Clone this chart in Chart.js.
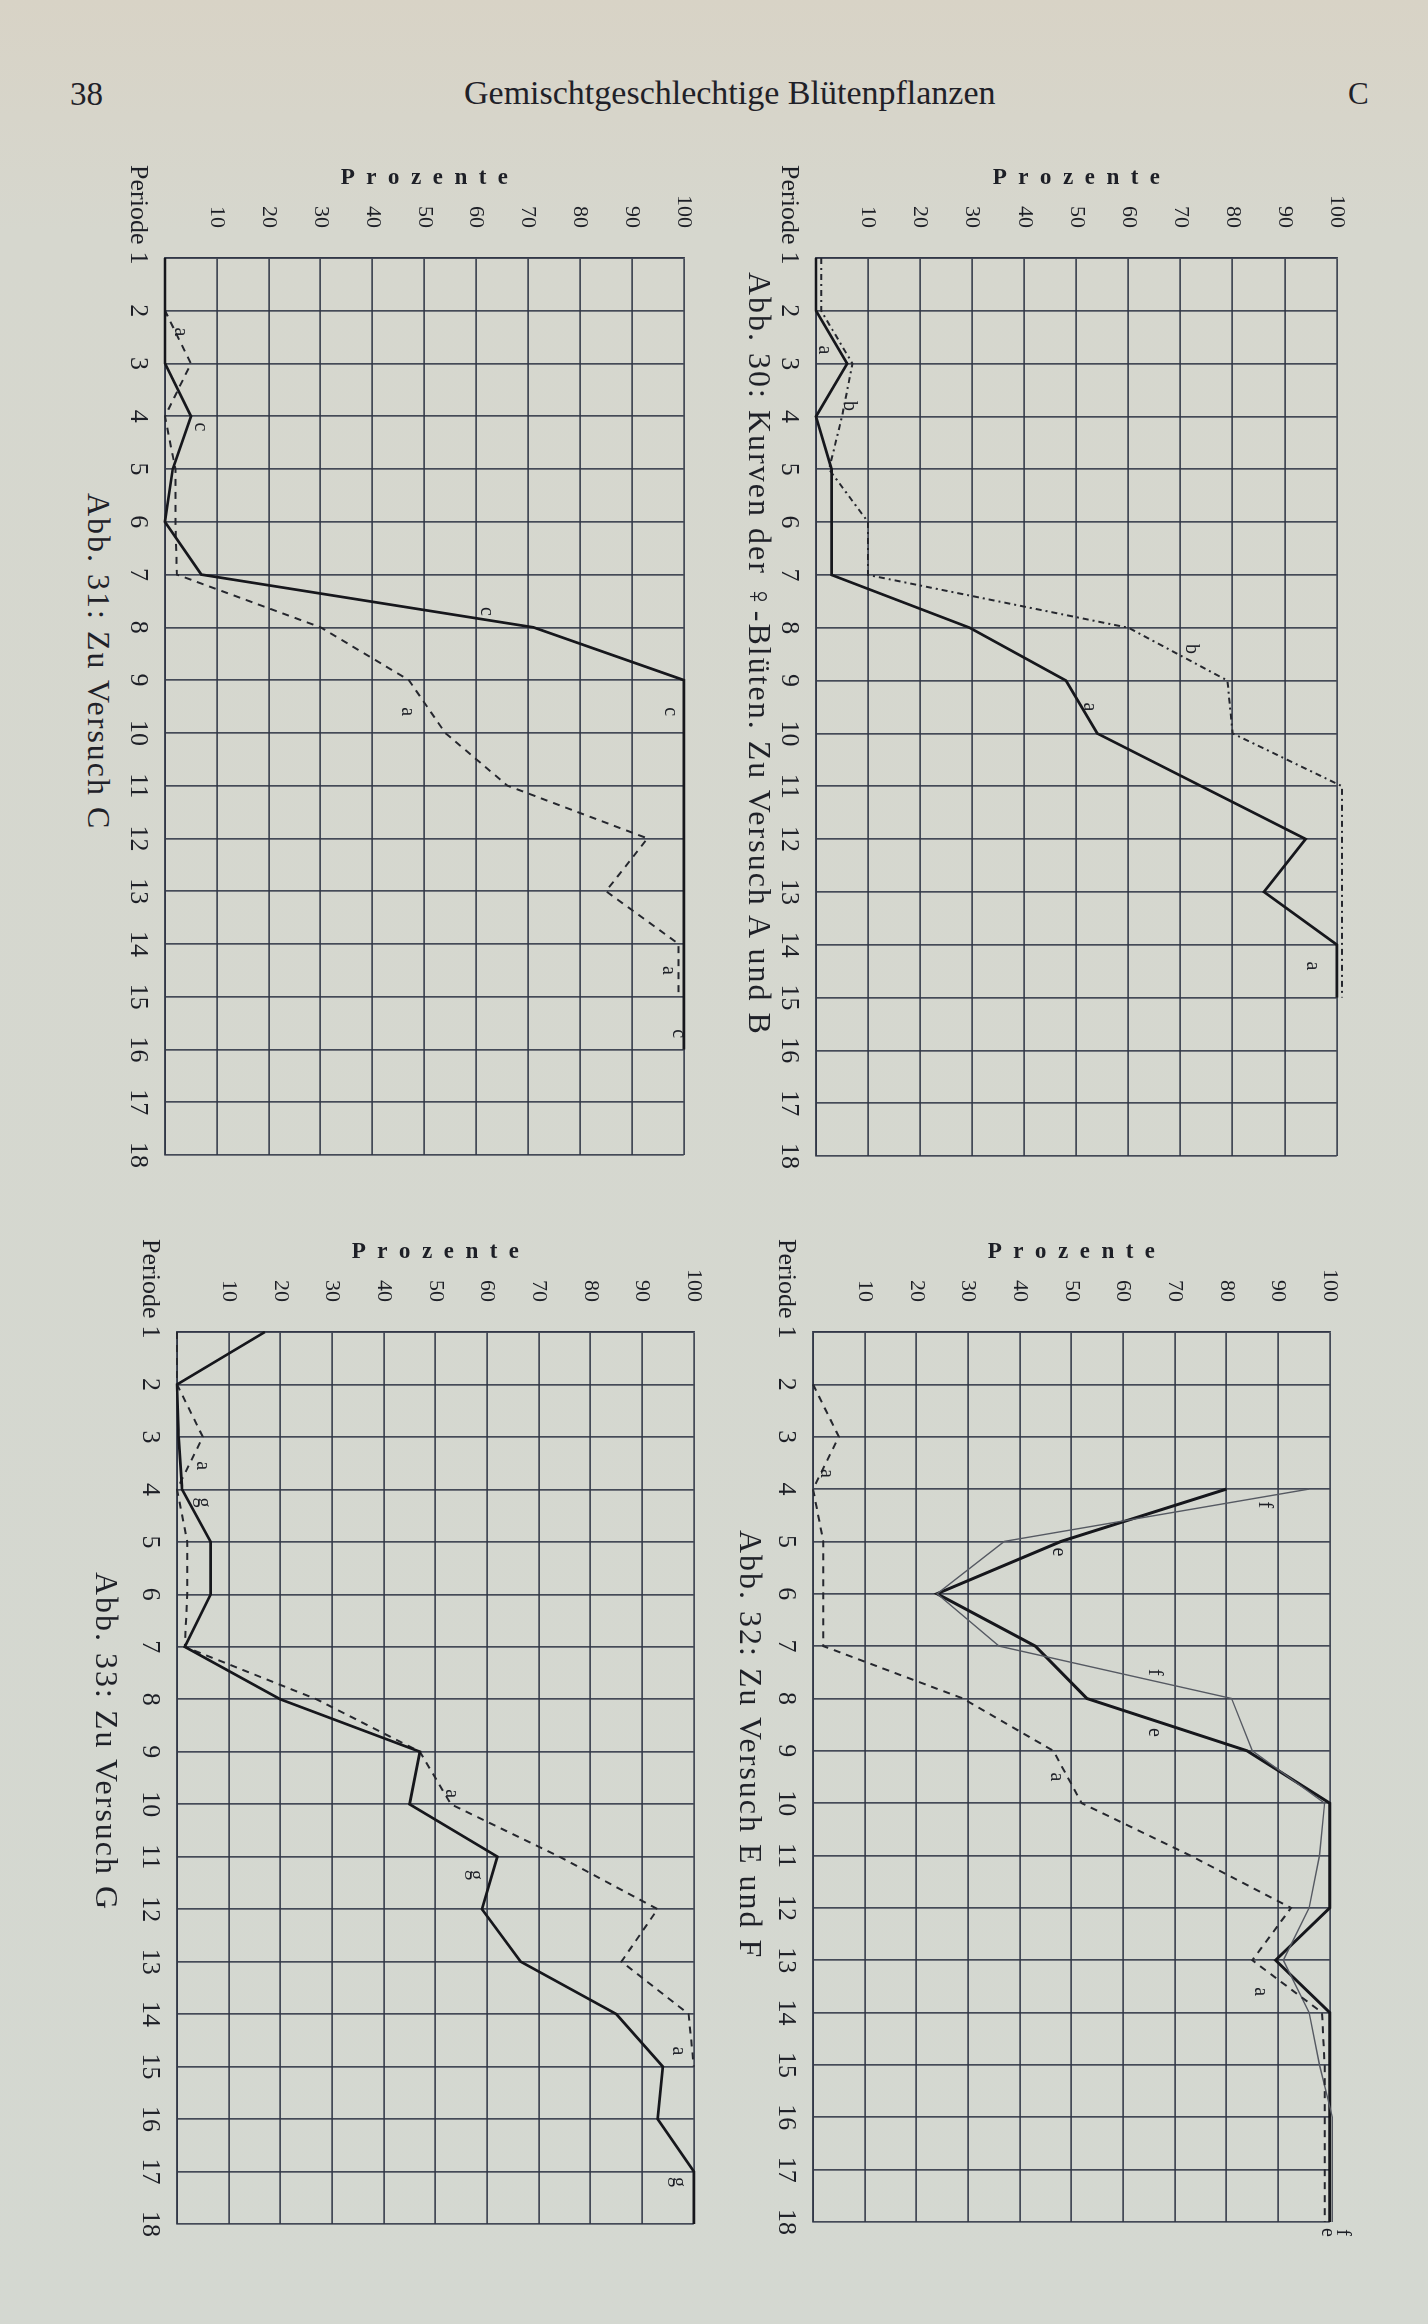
<!DOCTYPE html>
<html>
<head>
<meta charset="utf-8">
<script src="https://cdn.jsdelivr.net/npm/chart.js@4.4.1/dist/chart.umd.min.js"></script>
<style>
  html, body { margin: 0; padding: 0; }
  body {
    width: 1428px; height: 2324px; position: relative; overflow: hidden;
    background: linear-gradient(#d8d3c6 0%, #d6d7ce 10%, #d4d8d1 100%);
    font-family: "Liberation Serif", "DejaVu Serif", serif; color: #1f2128;
  }
  .head { position: absolute; line-height: 1; white-space: nowrap; }
  .fig { position: absolute; transform: rotate(90deg); transform-origin: 0 0; }
  .fig canvas { position: absolute; left: 0; top: 0; }
  .cap { position: absolute; font-size: 32px; letter-spacing: 2px; white-space: nowrap; line-height: 32px; }
</style>
</head>
<body>
<div class="head" style="left:70px; top:78px; font-size:33px;">38</div>
<div class="head" style="left:464px; top:76px; font-size:34px;">Gemischtgeschlechtige Blütenpflanzen</div>
<div class="head" style="left:1348px; top:78px; font-size:31px;">C</div>

<div class="fig" id="fig30"><canvas id="c30"></canvas><div class="cap" id="cap30">Abb. 30: Kurven der ♀-Blüten. Zu Versuch A und B</div></div>
<div class="fig" id="fig31"><canvas id="c31"></canvas><div class="cap" id="cap31">Abb. 31: Zu Versuch C</div></div>
<div class="fig" id="fig32"><canvas id="c32"></canvas><div class="cap" id="cap32">Abb. 32: Zu Versuch E und F</div></div>
<div class="fig" id="fig33"><canvas id="c33"></canvas><div class="cap" id="cap33">Abb. 33: Zu Versuch G</div></div>

<script>
// Perioden (x) und Prozent-Beschriftung (y)
const periods = ['1', '2', '3', '4', '5', '6', '7', '8', '9', '10', '11', '12', '13', '14', '15', '16', '17', '18'];
const percentLabels = [10, 20, 30, 40, 50, 60, 70, 80, 90, 100];

// Abb. 30: Kurven der weibl. Blüten, Versuch A und B
const abb30_a = [0, 0, 6, 0, 3, 3, 3, 29.5, 48, 54, 74, 94, 86, 100, 100, null, null, null];
const abb30_b = [1, 1, 7, 5, 2.5, 10, 10, 60, 79, 80, 101, 101, 101, 101, 101, null, null, null];

// Abb. 31: Versuch C
const abb31_c = [0, 0, 0, 5, 1.5, 0, 7, 71, 100, 100, 100, 100, 100, 100, 100, 100, null, null];
const abb31_a = [0, 0, 5, 0, 2, 2, 2.3, 30, 47, 54, 66, 93, 85, 99, 99, null, null, null];

// Abb. 32: Versuch E und F
const abb32_a = [null, 0, 5, 0, 2, 2, 2, 29, 46.5, 52, 73, 92.5, 85, 98.5, 99, 99, 99, 99];
const abb32_e = [null, null, null, 80, 48, 24, 43, 53, 84, 100, 100, 100, 89.5, 100, 100, 100, 100, 100];
const abb32_f = [null, null, null, 96, 37, 24, 36, 81, 85, 99, 98, 96, 91, 96, 98, 100.5, 100.5, 100.5];

// Abb. 33: Versuch G
const abb33_g = [17, 0, 0.3, 1, 6.5, 6.5, 1.5, 20, 47, 45, 62, 59, 66.5, 85, 94, 93, 100, 100];
const abb33_a = [0, 0, 5, 0, 2, 2, 1.5, 27, 47, 53, 74, 93, 86, 99, 100, null, null, null];

// Kurvenbuchstaben: [Text, Periode, Prozent]
const abb30_letters = [['a', 2.74, 1.6], ['b', 3.8, 6.4], ['b', 8.4, 72], ['a', 9.5, 52.4], ['a', 14.4, 95.3]];
const abb31_letters = [['a', 2.4, 3], ['c', 4.2, 6.8], ['c', 7.7, 62], ['c', 9.6, 97.4], ['a', 9.6, 46.6], ['a', 14.5, 97], ['c', 15.7, 99]];
const abb32_letters = [['a', 3.7, 2.6], ['f', 4.3, 87.3], ['e', 5.2, 47.5], ['f', 7.5, 66], ['e', 8.65, 66], ['a', 9.5, 47], ['a', 13.6, 86.6], ['f', 18.2, 102.5], ['e', 18.2, 99.6]];
const abb33_letters = [['a', 3.55, 4.9], ['g', 4.25, 5.1], ['a', 9.8, 53], ['g', 11.35, 57.8], ['a', 14.7, 97], ['g', 17.2, 97]];

const INK = '#1d1f26';
const GRID = 'rgba(48,54,70,0.88)';
const FONT = '"Liberation Serif", "DejaVu Serif", serif';

const solid = (data) => ({ data, borderColor: '#16171c', borderWidth: 2.7, pointRadius: 0, clip: false });
const dashed = (data, dash) => ({ data, borderColor: '#25272e', borderWidth: 2, borderDash: dash || [7, 6], pointRadius: 0, clip: false });
const thin = (data) => ({ data, borderColor: '#555962', borderWidth: 1.4, pointRadius: 0, clip: false });

// Buchstaben an den Kurven und "Periode" vor der ersten Zahl
const markPlugin = {
    id: 'marks',
    afterDraw(chart, args, opts) {
        const { ctx, scales: { x, y } } = chart;
        ctx.save();
        ctx.fillStyle = INK;
        ctx.textAlign = 'center';
        ctx.textBaseline = 'middle';
        ctx.font = '20px ' + FONT;
        (opts.letters || []).forEach(l => {
            ctx.fillText(l[0], x.getPixelForValue(l[1] - 1), y.getPixelForValue(l[2]));
        });
        ctx.font = '26px ' + FONT;
        const first = x.getPixelForValue(0);
        const w1 = ctx.measureText('1').width;
        ctx.textAlign = 'right';
        ctx.fillText('Periode', first - w1 / 2 - 7, x.top + 12 + 15.6);
        ctx.restore();
    }
};

function makeFigure(n, datasets, letters, g) {
    const W = g.u0 + g.len + 50;
    const H = g.v0 + g.ht + 46;
    const fig = document.getElementById('fig' + n);
    fig.style.left = g.right + 'px';
    fig.style.top = g.top + 'px';
    fig.style.width = W + 'px';
    fig.style.height = (H + 70) + 'px';
    const cv = document.getElementById('c' + n);
    cv.width = W; cv.height = H;
    cv.style.width = W + 'px'; cv.style.height = H + 'px';
    const cap = document.getElementById('cap' + n);
    cap.style.left = g.capU + 'px';
    cap.style.top = (g.capV - 16) + 'px';

    new Chart(cv.getContext('2d'), {
        type: 'line',
        data: { labels: periods, datasets },
        options: {
            responsive: false,
            animation: false,
            events: [],
            layout: { padding: { top: g.v0, right: W - g.u0 - g.len, left: 0, bottom: 0 } },
            plugins: {
                legend: { display: false },
                tooltip: { enabled: false },
                marks: { letters }
            },
            elements: { line: { tension: 0 } },
            scales: {
                x: {
                    type: 'category',
                    offset: false,
                    grid: { color: GRID, lineWidth: 1.7, drawTicks: false },
                    border: { color: GRID, width: 1.7 },
                    ticks: { color: INK, font: { family: FONT, size: 26 }, padding: 12, autoSkip: false, maxRotation: 0 },
                    afterFit: (s) => { s.height = 46; }
                },
                y: {
                    min: 0, max: 100,
                    grid: { color: GRID, lineWidth: 1.7, drawTicks: false },
                    border: { color: GRID, width: 1.7 },
                    ticks: {
                        stepSize: 10, color: INK, padding: 30,
                        font: { family: FONT, size: 22 },
                        callback: (v) => percentLabels.includes(v) ? String(v) : ''
                    },
                    title: {
                        display: true, text: 'P  r  o  z  e  n  t  e', color: INK,
                        font: { family: FONT, size: 23, weight: 'bold' },
                        padding: { top: 14, bottom: 0 }
                    },
                    afterFit: (s) => { s.width = g.u0; }
                }
            }
        },
        plugins: [markPlugin]
    });
}

makeFigure(30, [solid(abb30_a), dashed(abb30_b, [6, 4, 2, 4])], abb30_letters,
    { right: 1380, top: 150, u0: 108, len: 898, v0: 32, ht: 532, capU: 122, capV: 620 });
makeFigure(31, [solid(abb31_c), dashed(abb31_a)], abb31_letters,
    { right: 727, top: 150, u0: 108, len: 897, v0: 32, ht: 530, capU: 343, capV: 628 });
makeFigure(32, [dashed(abb32_a), thin(abb32_f), { ...solid(abb32_e), borderWidth: 3 }], abb32_letters,
    { right: 1373, top: 1224, u0: 108, len: 890, v0: 32, ht: 528, capU: 306, capV: 622 });
makeFigure(33, [solid(abb33_g), dashed(abb33_a)], abb33_letters,
    { right: 737, top: 1224, u0: 108, len: 892, v0: 32, ht: 528, capU: 348, capV: 630 });
</script>
</body>
</html>
